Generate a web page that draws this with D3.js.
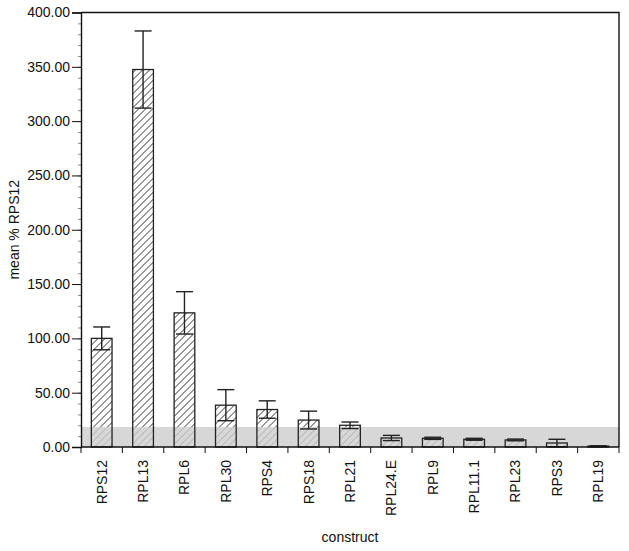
<!DOCTYPE html>
<html>
<head>
<meta charset="utf-8">
<script src="https://cdn.jsdelivr.net/npm/d3@7"></script>
<style>
  body { margin: 0; background: #fff; }
  svg { display: block; font-family: "Liberation Sans", Arial, sans-serif; }
</style>
</head>
<body>
<div id="chart"></div>
<script>
(function () {
  'use strict';

  var constructs = ['RPS12', 'RPL13', 'RPL6', 'RPL30', 'RPS4', 'RPS18', 'RPL21',
    'RPL24.E', 'RPL9', 'RPL11.1', 'RPL23', 'RPS3', 'RPL19'];
  var meanValues = [100, 347.5, 123.5, 38.5, 34.5, 24.8, 20, 8.3, 8, 7.1, 6.5, 3.7, 0.8];
  var errValues = [10.5, 35.5, 19.5, 14.3, 8, 8.2, 3, 2.4, 1, 0.9, 0.8, 3.4, 0.3];
  var yTicks = [0, 50, 100, 150, 200, 250, 300, 350, 400];
  var thresholdValue = 18.5;

  var W = 629, H = 551;
  var margin = { top: 12.5, right: 10, bottom: 104, left: 81 };
  var innerW = W - margin.left - margin.right;
  var innerH = H - margin.top - margin.bottom;

  var svg = d3.select('#chart').append('svg').attr('width', W).attr('height', H);

  var pat = svg.append('defs').append('pattern')
    .attr('id', 'hatch')
    .attr('patternUnits', 'userSpaceOnUse')
    .attr('width', 7).attr('height', 7);
  pat.append('path')
    .attr('d', 'M-1,1 l2,-2 M0,7 l7,-7 M6,8 l2,-2')
    .attr('stroke', '#333')
    .attr('stroke-width', 1);

  var g = svg.append('g').attr('transform', 'translate(' + margin.left + ',' + margin.top + ')');

  var x = d3.scaleBand().domain(constructs).range([0, innerW]).paddingInner(0.5).paddingOuter(0.25);
  var y = d3.scaleLinear().domain([0, 400]).range([innerH, 0]);

  // hatched bars
  g.selectAll('rect.bar-fill')
    .data(constructs)
    .join('rect')
    .attr('class', 'bar-fill')
    .attr('x', function (d) { return x(d); })
    .attr('y', function (d, i) { return y(meanValues[i]); })
    .attr('width', x.bandwidth())
    .attr('height', function (d, i) { return innerH - y(meanValues[i]); })
    .attr('fill', 'url(#hatch)');

  // grey threshold band over the bottom
  g.append('rect')
    .attr('x', 0).attr('y', y(thresholdValue))
    .attr('width', innerW).attr('height', innerH - y(thresholdValue))
    .attr('fill', '#cdcdcd')
    .attr('opacity', 0.8);

  // bar outlines
  g.selectAll('rect.bar-line')
    .data(constructs)
    .join('rect')
    .attr('class', 'bar-line')
    .attr('x', function (d) { return x(d); })
    .attr('y', function (d, i) { return y(meanValues[i]); })
    .attr('width', x.bandwidth())
    .attr('height', function (d, i) { return innerH - y(meanValues[i]); })
    .attr('fill', 'none')
    .attr('stroke', '#222')
    .attr('stroke-width', 1.3);

  // error bars
  var capW = 17;
  var eb = g.selectAll('g.err').data(constructs).join('g').attr('class', 'err')
    .attr('stroke', '#222').attr('stroke-width', 1.4);
  eb.append('line')
    .attr('x1', function (d) { return x(d) + x.bandwidth() / 2; })
    .attr('x2', function (d) { return x(d) + x.bandwidth() / 2; })
    .attr('y1', function (d, i) { return y(meanValues[i] - errValues[i]); })
    .attr('y2', function (d, i) { return y(meanValues[i] + errValues[i]); });
  [1, -1].forEach(function (s) {
    eb.append('line')
      .attr('x1', function (d) { return x(d) + x.bandwidth() / 2 - capW / 2; })
      .attr('x2', function (d) { return x(d) + x.bandwidth() / 2 + capW / 2; })
      .attr('y1', function (d, i) { return y(meanValues[i] + s * errValues[i]); })
      .attr('y2', function (d, i) { return y(meanValues[i] + s * errValues[i]); });
  });

  // minor y ticks
  g.append('g')
    .call(d3.axisLeft(y).tickValues(d3.range(0, 401, 10)).tickSize(3).tickFormat(''))
    .call(function (s) {
      s.select('.domain').remove();
      s.selectAll('line').attr('stroke', '#888');
    });

  // y axis
  g.append('g')
    .call(d3.axisLeft(y).tickValues(yTicks).tickSize(9).tickPadding(2).tickFormat(d3.format('.2f')))
    .call(function (s) {
      s.select('.domain').attr('stroke', '#111').attr('stroke-width', 1.4);
      s.selectAll('line').attr('stroke', '#111');
      s.selectAll('text').attr('font-size', '14px').attr('fill', '#111');
    });

  // x axis with ticks at band boundaries
  var bounds = constructs.map(function (d) { return x(d) - x.step() * x.paddingInner() / 2; }).concat([innerW]);
  var xg = g.append('g').attr('transform', 'translate(0,' + innerH + ')');
  xg.append('line').attr('x1', 0).attr('x2', innerW).attr('stroke', '#111').attr('stroke-width', 1.4);
  xg.selectAll('line.tk').data(bounds).join('line').attr('class', 'tk')
    .attr('x1', function (d) { return d; }).attr('x2', function (d) { return d; })
    .attr('y1', 0).attr('y2', 6).attr('stroke', '#111');
  xg.selectAll('text').data(constructs).join('text')
    .attr('transform', function (d) { return 'translate(' + (x(d) + x.bandwidth() / 2) + ',13) rotate(-90)'; })
    .attr('text-anchor', 'end')
    .attr('dy', '0.35em')
    .attr('font-size', '14px')
    .attr('fill', '#111')
    .text(function (d) { return d; });

  // frame top + right
  g.append('path')
    .attr('d', 'M0,0H' + innerW + 'V' + innerH)
    .attr('fill', 'none').attr('stroke', '#111').attr('stroke-width', 1.4);

  svg.append('text')
    .attr('x', margin.left + innerW / 2).attr('y', 542)
    .attr('text-anchor', 'middle').attr('font-size', '14px').attr('fill', '#111')
    .text('construct');
  svg.append('text')
    .attr('transform', 'translate(19,' + (margin.top + innerH / 2) + ') rotate(-90)')
    .attr('text-anchor', 'middle').attr('font-size', '14px').attr('fill', '#111')
    .text('mean % RPS12');
})();
</script>
</body>
</html>
